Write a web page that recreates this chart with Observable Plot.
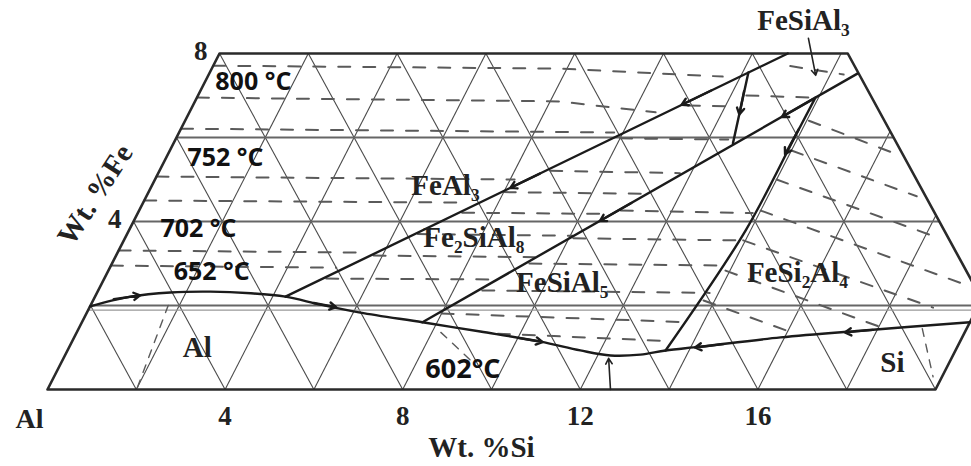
<!DOCTYPE html>
<html><head><meta charset="utf-8">
<script src="https://cdn.jsdelivr.net/npm/d3@7"></script>
<script src="https://cdn.jsdelivr.net/npm/@observablehq/plot@0.6"></script>
<style>
html,body{margin:0;padding:0;background:#fff;overflow:hidden;}
#chart svg{overflow:hidden;display:block;}
</style></head><body><div id="chart"></div>
<script>
// ---- axis ticks (wt.% Si along the bottom, wt.% Fe along the left edge)
const siTicks = [4, 8, 12, 16];
const siTickLabels = ["4", "8", "12", "16"];
const feTicks = [4, 8];
const feTickLabels = ["4", "8"];

// ---- triangular grid lines
const siGrid = [2, 4, 6, 8, 10, 12, 14, 16, 18];        // constant Si
const sumGrid = [2, 4, 6, 8, 10, 12, 14, 16, 18, 20];   // constant Si+Fe (constant Al)
const feGrid = [2, 4, 6];                               // constant Fe
const feGridFaint = [1.89];

// ---- outline of the section, [Si, Fe]
const frameSi = [0, 20, 20, 14.15, 0, 0];
const frameFe = [0, 0, 2.15, 8, 8, 0];
const sumEdge = 22.15;

// ---- univariant liquidus valleys, [Si, Fe]
const valleyLow = [[0,1.98],[0.8,2.21],[1.65,2.31],[2.54,2.33],[3.47,2.29],[4.29,2.21],[5.17,2.02],[6.16,1.83],[7.67,1.6],[9.08,1.38],[10.55,1.14],[11.55,0.93],[12.29,0.81],[12.95,0.83],[13.47,0.93],[14.21,1.02],[15.91,1.24],[17.63,1.4],[20,1.6]];
const valleyFeAl3 = [[4.29,2.21],[12.8,8]];
const valleyFe2SiAl8 = [[7.67,1.6],[14.6,7.52]];
const valleyShort = [[12.13,7.55],[12.6,5.86]];
const valleyFeSi2Al4 = [[13.47,0.93],[13.89,3.79],[13.92,6.05],[13.93,6.95]];

// ---- isotherms (dashed), [Si, Fe]
const isoFeAl3 = [
  [[0,7.71],[7.85,7.64],[11.6,7.45]],
  [[0,6.95],[8.2,6.86],[10.5,6.6]],
  [[0,6.21],[9.8,6.12]],
  [[0,5.07],[8.1,5.0]],
  [[0,4.5],[7.3,4.45]],
  [[0,3.31],[5.6,3.26]],
  [[0,2.95],[5.1,2.9]]
];
const isoFe2SiAl8 = [
  [[11.15,6.76],[12.25,6.74]],
  [[10.0,5.98],[12.45,5.95]],
  [[8.8,5.21],[11.75,5.15]],
  [[8.0,4.7],[11.2,4.66]],
  [[7.3,4.21],[10.65,4.18]],
  [[6.55,3.7],[10.05,3.66]],
  [[5.8,3.19],[9.45,3.15]],
  [[5.0,2.64],[8.8,2.62]]
];
const isoFeSiAl5 = [
  [[10.85,4.26],[13.85,4.2]],
  [[10.1,3.6],[13.85,3.55]],
  [[9.4,3.0],[13.85,2.95]],
  [[8.65,2.36],[13.8,2.3]],
  [[8.0,1.81],[13.7,1.6]],
  [[9.5,1.33],[13.5,1.15]]
];
const isoFeSiAl3 = [
  [[13.0,7.7],[14.3,7.5]],
  [[12.35,7.0],[13.9,6.95]]
];
const isoFeSi2Al4 = [
  [[14.05,6.4],[16.3,5.64]],
  [[14.0,5.69],[17.35,4.6]],
  [[14.0,5.0],[18.35,3.6]],
  [[14.0,4.26],[19.45,2.5]],
  [[13.95,3.55],[19.0,1.95]],
  [[13.9,2.83],[18.0,1.5]],
  [[13.75,2.12],[16.1,1.36]]
];
const isoExtra = [
  [[2.0,0.05],[1.75,2.0]],
  [[19.0,1.45],[19.8,0.3]],
  [[8.2,1.36],[9.2,0.69]]
];

// ---- direction arrows on the valleys: [Si1, Fe1, Si2, Fe2]
const valleyArrows = [
  [0.45,2.15,1.0,2.24],[5.0,2.06,5.55,1.96],[10.0,1.23,10.6,1.13],
  [14.7,1.08,14.1,1.0],[17.9,1.42,17.3,1.36],
  [8.6,5.14,8.1,4.8],[11.5,7.12,11.0,6.78],
  [11.0,4.44,10.5,4.01],[13.9,6.92,13.4,6.49],
  [12.25,7.1,12.41,6.55],[13.92,6.2,13.9,5.6]
];
const pointerArrows = [
  [12.68,0,12.28,0.74],
  [13.09,8.36,13.68,7.48]
];

// ---- labels
const phaseLabels = ["FeAl₃","Fe₂SiAl₈","FeSiAl₅","FeSi₂Al₄","Al","Si","FeSiAl₃"];
const phaseSi = [6.61, 7.85, 10.36, 15.54, 2.89, 18.72, 12.77];
const phaseFe = [4.86, 3.62, 2.55, 2.79, 1.0, 0.64, 8.79];
const tempLabels = ["800 °C","752 °C","702 °C","652 °C"];
const tempSi = [0.24, 0.48, 0.69, 1.49];
const tempFe = [7.31, 5.52, 3.83, 2.79];
const eutLabel = ["602°C"];
const eutSi = [8.28];
const eutFe = [0.476];

// ---- geometry of the skewed (ternary) axes
const K = 21.5 / 44.4;
const X = (si, fe) => si + K * fe;

// grid segments clipped to the outline
const gridSegs = [];
siGrid.forEach(c => gridSegs.push({s1:c, f1:0, s2:c, f2:Math.min(8, sumEdge - c)}));
sumGrid.forEach(c => {
  const f1 = Math.max(0, c - 20), f2 = Math.min(8, c);
  gridSegs.push({s1:c - f1, f1, s2:c - f2, f2});
});
const hSegs = feGrid.map(c => ({s1:0, f1:c, s2:Math.min(20, sumEdge - c), f2:c}));
const hSegsFaint = feGridFaint.map(c => ({s1:0, f1:c, s2:20, f2:c}));

const toRows = groups => groups.flatMap((pts, i) => pts.map(([s, f]) => ({s, f, i})));
const frameRows = frameSi.map((s, i) => ({s, f: frameFe[i]}));
const arrowRows = a => a.map(([s1,f1,s2,f2]) => ({s1,f1,s2,f2}));

const SERIF = "'Liberation Serif','Times New Roman',serif";
const SANS = "'Open Sans','Noto Sans',sans-serif";
const valleyStyle = {x: d => X(d[0], d[1]), y: d => d[1], stroke: "#1b1b1b", strokeWidth: 2.4};
const isoStyle = {x: d => X(d.s, d.f), y: "f", z: "i", stroke: "#5a5a5a", strokeWidth: 2, strokeDasharray: "12,13"};

const plot = Plot.plot({
  width: 971, height: 466, margin: 0,
  x: {domain: [0, 20], range: [47, 935], axis: null},
  y: {domain: [0, 8], range: [389, 53], axis: null},
  style: {background: "white", fontFamily: SERIF},
  marks: [
    Plot.link(gridSegs, {x1: d => X(d.s1, d.f1), y1: "f1", x2: d => X(d.s2, d.f2), y2: "f2", stroke: "#4a4a4a", strokeWidth: 1.1}),
    Plot.link(hSegs, {x1: d => X(d.s1, d.f1), y1: "f1", x2: d => X(d.s2, d.f2), y2: "f2", stroke: "#666", strokeWidth: 1.8}),
    Plot.link(hSegsFaint, {x1: d => X(d.s1, d.f1), y1: "f1", x2: d => X(d.s2, d.f2), y2: "f2", stroke: "#999", strokeWidth: 1.2}),
    Plot.line(toRows(isoFeAl3), isoStyle),
    Plot.line(toRows(isoFe2SiAl8), isoStyle),
    Plot.line(toRows(isoFeSiAl5), isoStyle),
    Plot.line(toRows(isoFeSiAl3), isoStyle),
    Plot.line(toRows(isoFeSi2Al4), isoStyle),
    Plot.line(toRows(isoExtra), {...isoStyle, strokeWidth: 1.4, strokeDasharray: "8,8"}),
    Plot.line(frameRows, {x: d => X(d.s, d.f), y: "f", stroke: "#2a2a2a", strokeWidth: 2.6}),
    Plot.line(valleyLow, {...valleyStyle, curve: "catmull-rom"}),
    Plot.line(valleyFeAl3, valleyStyle),
    Plot.line(valleyFe2SiAl8, valleyStyle),
    Plot.line(valleyShort, valleyStyle),
    Plot.line(valleyFeSi2Al4, {...valleyStyle, curve: "catmull-rom"}),
    Plot.arrow(arrowRows(valleyArrows), {x1: d => X(d.s1, d.f1), y1: "f1", x2: d => X(d.s2, d.f2), y2: "f2", stroke: "#1b1b1b", strokeWidth: 2.4, headLength: 4.5}),
    Plot.arrow(arrowRows(pointerArrows), {x1: d => X(d.s1, d.f1), y1: "f1", x2: d => X(d.s2, d.f2), y2: "f2", stroke: "#222", strokeWidth: 1.6, headLength: 6}),
    // phase field labels
    Plot.text(phaseLabels, {x: (d, i) => X(phaseSi[i], phaseFe[i]), y: (d, i) => phaseFe[i], text: d => d, fontSize: 29, fontWeight: "bold", fontFamily: SERIF, fill: "#222"}),
    // axis tick labels
    Plot.text(siTickLabels, {x: (d, i) => siTicks[i], y: () => 0, text: d => d, dy: 27, fontSize: 27, fontWeight: "bold", fill: "#222"}),
    Plot.text(feTickLabels, {x: (d, i) => X(0, feTicks[i]), y: (d, i) => feTicks[i], text: d => d, dx: -12, dy: -2, textAnchor: "end", fontSize: 27, fontWeight: "bold", fill: "#222"}),
    Plot.text(["Al"], {x: () => 0, y: () => 0, text: d => d, dx: -18, dy: 30, fontSize: 28, fontWeight: "bold", fill: "#222"}),
    Plot.text(["Wt. %Si"], {x: () => 10, y: () => 0, text: d => d, dx: -10, dy: 58, fontSize: 29, fontWeight: "bold", fill: "#222"}),
    Plot.text(["Wt. %Fe"], {x: () => X(0, 4.64), y: () => 4.64, text: d => d, dx: -52, rotate: -57, fontSize: 29, fontWeight: "bold", fill: "#222"}),
    // temperature labels
    Plot.text(tempLabels, {x: (d, i) => X(tempSi[i], tempFe[i]), y: (d, i) => tempFe[i], text: d => d, textAnchor: "start", fontSize: 25, fontWeight: "bold", fontFamily: SANS, fill: "#111", ariaLabel: "temps"}),
    Plot.text(eutLabel, {x: (d, i) => X(eutSi[i], eutFe[i]), y: (d, i) => eutFe[i], text: d => d, textAnchor: "start", fontSize: 27, fontWeight: "bold", fontFamily: SANS, fill: "#111", ariaLabel: "temps"})
  ]
});
document.getElementById("chart").append(plot);

// white boxes behind the temperature labels
d3.select(plot).selectAll('g[aria-label="temps"] text').each(function () {
  const b = this.getBBox();
  const r = document.createElementNS("http://www.w3.org/2000/svg", "rect");
  r.setAttribute("x", b.x - 3);
  r.setAttribute("y", b.y + 1);
  r.setAttribute("width", b.width + 6);
  r.setAttribute("height", b.height - 2);
  r.setAttribute("fill", "white");
  const t = this.getAttribute("transform");
  if (t) r.setAttribute("transform", t);
  this.parentNode.insertBefore(r, this);
});
</script>
</body></html>
